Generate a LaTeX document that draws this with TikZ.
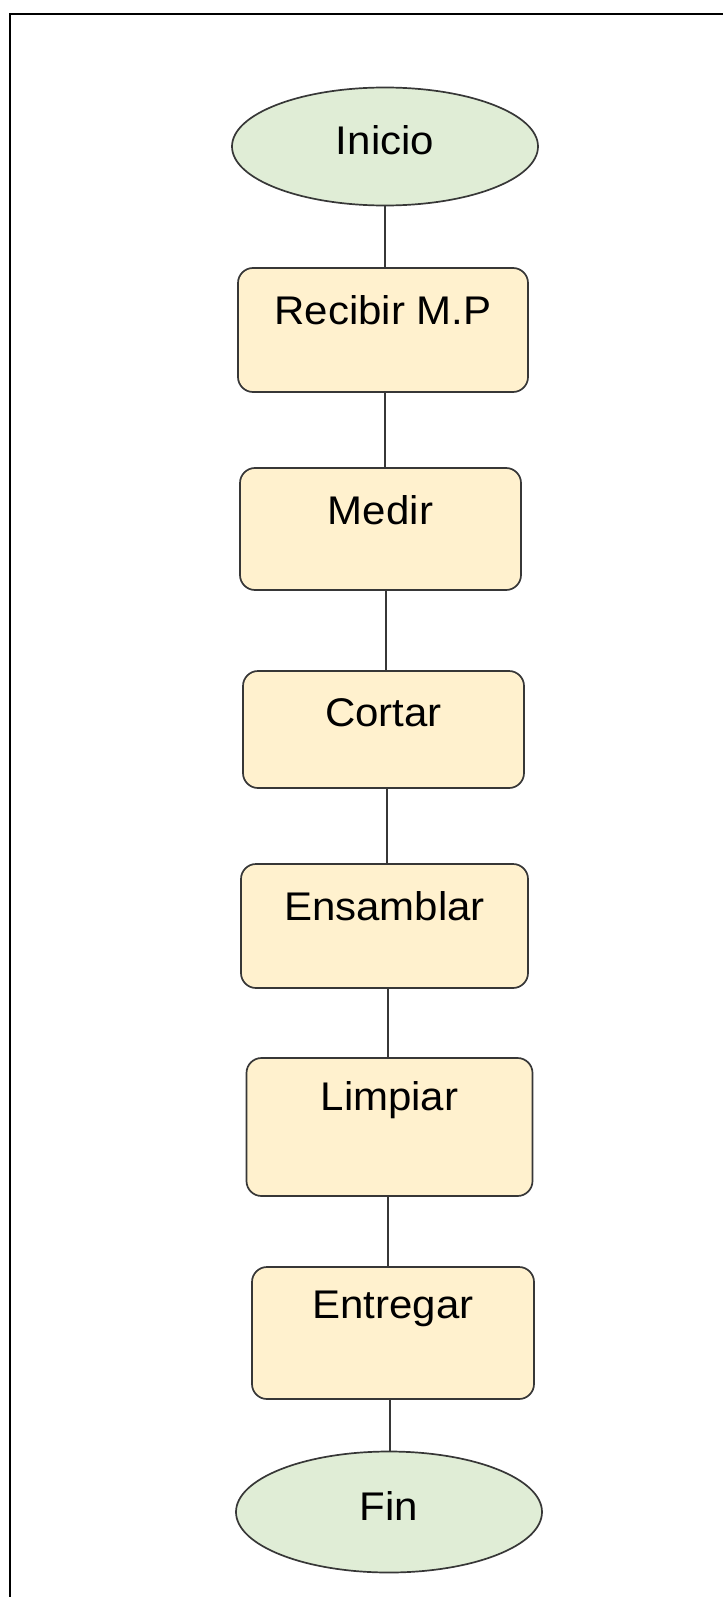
\documentclass[tikz,border=0pt]{standalone}
\usepackage{fontspec}
\setmainfont[FakeStretch=1.05]{Liberation Sans}
\usetikzlibrary{shapes.geometric}
\definecolor{termfill}{RGB}{224,237,214}
\definecolor{procfill}{RGB}{255,241,206}
\definecolor{edgecol}{RGB}{55,55,55}
\begin{document}
\begin{tikzpicture}[x=1pt,y=-1pt,
  term/.style={ellipse, draw=edgecol, line width=1.7pt, fill=termfill, inner sep=0pt,
    minimum width=306pt, minimum height=118pt},
  proc/.style={rectangle, rounded corners=15pt, draw=edgecol, line width=1.7pt,
    fill=procfill, inner sep=0pt},
  ttext/.style={font=\fontsize{40}{48}\selectfont, anchor=center, yshift=6pt, inner sep=0pt},
  ptext/.style={font=\fontsize{40}{48}\selectfont, anchor=center, yshift=-43pt, inner sep=0pt},
  conn/.style={draw=edgecol, line width=1.7pt},
  frame/.style={draw=black, line width=2pt}
]
\useasboundingbox (0,0) rectangle (723,1597);
\draw[frame] (10,1597) -- (10,14) -- (723,14);

\node[term, label={[ttext]center:Inicio}] (n0) at (385,146.5) {};
\node[proc, minimum width=290pt, minimum height=124pt, label={[ptext]north:Recibir M.P}] (n1) at (383,330) {};
\node[proc, minimum width=281pt, minimum height=122pt, label={[ptext]north:Medir}] (n2) at (380.5,529) {};
\node[proc, minimum width=281pt, minimum height=117pt, label={[ptext]north:Cortar}] (n3) at (383.5,729.5) {};
\node[proc, minimum width=287pt, minimum height=124pt, label={[ptext]north:Ensamblar}] (n4) at (384.5,926) {};
\node[proc, minimum width=286pt, minimum height=138pt, label={[ptext]north:Limpiar}] (n5) at (389.5,1127) {};
\node[proc, minimum width=282pt, minimum height=132pt, label={[ptext]north:Entregar}] (n6) at (393,1333) {};
\node[term, minimum height=121pt, label={[ttext]center:Fin}] (n7) at (389,1512) {};

\draw[conn] (385,0 |- n0.south) -- (385,0 |- n1.north);
\draw[conn] (385,0 |- n1.south) -- (385,0 |- n2.north);
\draw[conn] (386,0 |- n2.south) -- (386,0 |- n3.north);
\draw[conn] (387,0 |- n3.south) -- (387,0 |- n4.north);
\draw[conn] (388,0 |- n4.south) -- (388,0 |- n5.north);
\draw[conn] (388,0 |- n5.south) -- (388,0 |- n6.north);
\draw[conn] (390,0 |- n6.south) -- (390,0 |- n7.north);
\end{tikzpicture}
\end{document}
